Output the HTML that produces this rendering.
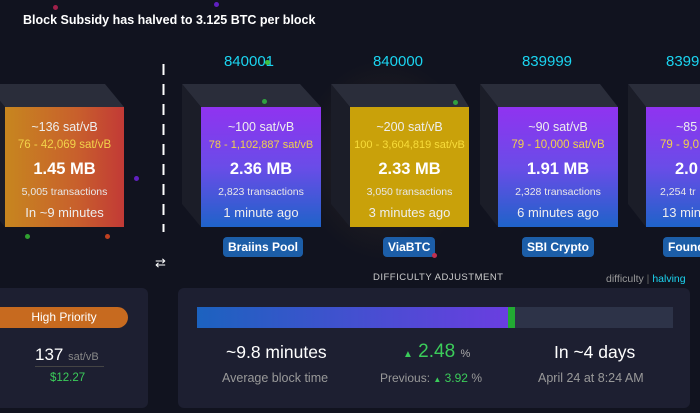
<!DOCTYPE html>
<html><head><style>
body{margin:0;width:700px;height:413px;overflow:hidden;background:#11131f;font-family:"Liberation Sans",sans-serif;position:relative;color:#fff}
.a{position:absolute}
.blk{position:absolute;top:107px;width:120px;height:120px;text-align:center}
.blk div{position:absolute;left:0;right:0}
.f1{top:13px;font-size:12.5px;color:#eee}
.f2{top:32px;font-size:11.5px;color:#f2d24a}
.f3{top:53px;font-size:16.5px;font-weight:bold}
.f4{top:79px;font-size:10.5px;color:#e8e8e8}
.f5{top:98px;font-size:13px;color:#eee}
.ht{position:absolute;top:53px;font-size:15px;color:#1bd4f0;width:120px;text-align:center}
.tag{position:absolute;top:237px;height:20px;line-height:20px;background:#1c5ea8;border-radius:4px;font-size:12px;font-weight:bold;padding:0 5px}
.purp{background:linear-gradient(#9033f0,#6a4ce8 50%,#1f63c9)}
.dot{position:absolute;width:5px;height:5px;border-radius:50%}
</style></head><body>
<div class="a" style="left:23px;top:13px;font-size:12.5px;font-weight:bold">Block Subsidy has halved to 3.125 BTC per block</div>
<div class="a" style="left:300px;top:60px;width:170px;height:200px;background:radial-gradient(closest-side,rgba(120,90,40,.25),rgba(0,0,0,0))"></div>
<svg class="a" style="left:0;top:0" width="700" height="413">
<g fill="#2a2d3a">
<polygon points="-14,84 105,84 124,107 5,107"/><polygon points="182,84 300,84 321,107 201,107"/><polygon points="331,84 455,84 469,107 350,107"/><polygon points="480,84 600,84 618,107 498,107"/><polygon points="628,84 700,84 700,107 646,107"/>
</g>
<g fill="#1b1d28">
<polygon points="182,84 201,107 201,227 182,204"/><polygon points="331,84 350,107 350,227 331,204"/><polygon points="480,84 498,107 498,227 480,204"/><polygon points="628,84 646,107 646,227 628,204"/><polygon points="-14,84 5,107 5,227 -14,204"/>
</g>
<line x1="163.5" y1="64" x2="163.5" y2="232" stroke="#fff" stroke-width="2" stroke-dasharray="11,9"/>
</svg>
<div class="a" style="left:155px;top:255px;font-size:13px">⇄</div>
<div class="blk" style="left:5px;width:119px;background:linear-gradient(90deg,#c7861f,#c8602c 60%,#c23a36)"><div class="f1">~136 sat/vB</div><div class="f2">76 - 42,069 sat/vB</div><div class="f3">1.45 MB</div><div class="f4">5,005 transactions</div><div class="f5">In ~9 minutes</div></div>
<div class="ht" style="left:189px">840001</div>
<div class="blk purp" style="left:201px"><div class="f1">~100 sat/vB</div><div class="f2" style="font-size:11px">78 - 1,102,887 sat/vB</div><div class="f3">2.36 MB</div><div class="f4">2,823 transactions</div><div class="f5">1 minute ago</div></div>
<div class="tag" style="left:223px">Braiins Pool</div>
<div class="ht" style="left:338px">840000</div>
<div class="blk" style="left:350px;width:119px;background:#c9a10a"><div class="f1">~200 sat/vB</div><div class="f2" style="font-size:11px;color:#f8dc3a">100 - 3,604,819 sat/vB</div><div class="f3">2.33 MB</div><div class="f4">3,050 transactions</div><div class="f5">3 minutes ago</div></div>
<div class="tag" style="left:383px">ViaBTC</div>
<div class="ht" style="left:487px">839999</div>
<div class="blk purp" style="left:498px"><div class="f1">~90 sat/vB</div><div class="f2">79 - 10,000 sat/vB</div><div class="f3">1.91 MB</div><div class="f4">2,328 transactions</div><div class="f5">6 minutes ago</div></div>
<div class="tag" style="left:522px">SBI Crypto</div>
<div class="a" style="left:666px;top:53px;font-size:15px;color:#1bd4f0">8399</div>
<div class="blk purp" style="left:646px"><div class="f1" style="text-align:left;left:30px">~85</div><div class="f2" style="text-align:left;left:14px">79 - 9,0</div><div class="f3" style="text-align:left;left:29px">2.0</div><div class="f4" style="text-align:left;left:14px">2,254 tr</div><div class="f5" style="text-align:left;left:16px">13 min</div></div>
<div class="tag" style="left:663px;border-radius:4px 0 0 4px">Found</div>
<div class="a" style="left:373px;top:272px;font-size:9.5px;color:#ccc;letter-spacing:.5px">DIFFICULTY ADJUSTMENT</div>
<div class="a" style="left:606px;top:273px;font-size:10.5px;color:#999">difficulty <span style="color:#666">|</span> <span style="color:#1bd4f0">halving</span></div>
<div class="a" style="left:-10px;top:288px;width:158px;height:120px;background:#1d1f31;border-radius:6px"></div>
<div class="a" style="left:-10px;top:307px;width:138px;height:21px;line-height:21px;background:#c76a1f;border-radius:0 11px 11px 0;font-size:12px;text-align:center;padding-left:10px;box-sizing:border-box">High Priority</div>
<div class="a" style="left:35px;top:345px;font-size:17px">137 <span style="font-size:11px;color:#888">sat/vB</span></div>
<div class="a" style="left:35px;top:366px;width:69px;height:1px;background:#444"></div>
<div class="a" style="left:50px;top:372px;font-size:11.5px;color:#3bcc5a">$12.27</div>
<div class="a" style="left:178px;top:288px;width:512px;height:120px;background:#1d1f31;border-radius:6px"></div>
<div class="a" style="left:197px;top:307px;width:476px;height:21px;background:#2d3348"></div>
<div class="a" style="left:197px;top:307px;width:311px;height:21px;background:linear-gradient(90deg,#1c62bf,#6a3ee0)"></div>
<div class="a" style="left:508px;top:307px;width:7px;height:21px;background:#22aa33"></div>
<div class="a" style="left:226px;top:342px;font-size:17.5px">~9.8 minutes</div>
<div class="a" style="left:222px;top:371px;font-size:12.5px;color:#999">Average block time</div>
<div class="a" style="left:403px;top:341px;font-size:19px;color:#3bcc5a"><span style="font-size:10px">▲</span> 2.48 <span style="font-size:11px;color:#aaa">%</span></div>
<div class="a" style="left:380px;top:371px;font-size:12px;color:#999">Previous: <span style="color:#3bcc5a"><span style="font-size:8px">▲</span> 3.92</span> %</div>
<div class="a" style="left:554px;top:342px;font-size:17.5px">In ~4 days</div>
<div class="a" style="left:538px;top:371px;font-size:12.5px;color:#999">April 24 at 8:24 AM</div>
<div class="dot" style="left:53px;top:5px;background:#a0204a"></div>
<div class="dot" style="left:214px;top:2px;background:#6020c0"></div>
<div class="dot" style="left:265px;top:60px;background:#40c040"></div>
<div class="dot" style="left:262px;top:99px;background:#30a040"></div>
<div class="dot" style="left:453px;top:100px;background:#30a040"></div>
<div class="dot" style="left:432px;top:253px;background:#c03050"></div>
<div class="dot" style="left:25px;top:234px;background:#30a030"></div>
<div class="dot" style="left:105px;top:234px;background:#c04020"></div>
<div class="dot" style="left:134px;top:176px;background:#6020c0"></div>
</body></html>
